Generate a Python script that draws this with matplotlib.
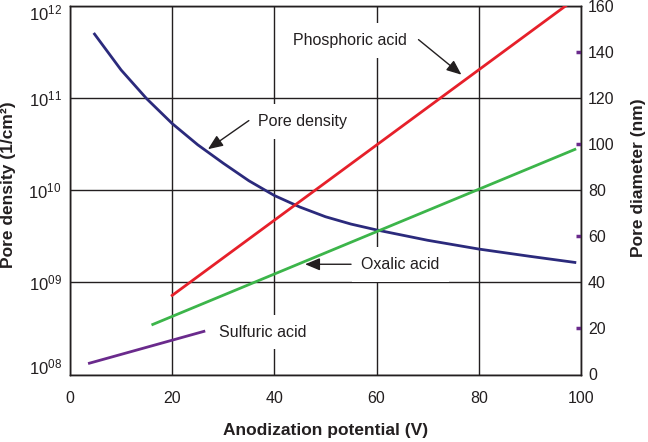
import matplotlib
matplotlib.use('Agg')
import matplotlib.pyplot as plt
from matplotlib.transforms import ScaledTranslation

plt.rcParams.update({
    'font.family': 'Liberation Sans',
    'mathtext.fontset': 'custom',
    'mathtext.rm': 'Liberation Sans',
    'mathtext.it': 'Liberation Sans:italic',
    'mathtext.bf': 'Liberation Sans:bold',
    'font.size': 11,
})

TXT = '#231f20'
BLUE = '#2b2a7c'
RED = '#e6202a'
GREEN = '#3cb54a'
PURPLE = '#6a2a8c'

# pore density (left axis, log)
density_v = [4.8, 10, 15, 20, 25, 30, 35, 40, 45, 50, 55, 60, 70, 80, 90, 98.8]
density = [4.9e11, 2.0e11, 9.77e10, 5.25e10, 3.09e10, 1.95e10, 1.26e10, 8.71e9,
           6.53e9, 5.13e9, 4.27e9, 3.69e9, 2.85e9, 2.29e9, 1.91e9, 1.64e9]

# pore diameter (right axis, nm)
phosphoric_v = [20, 97.1]
phosphoric_d = [34.3, 160]
oxalic_v = [16.2, 98.8]
oxalic_d = [21.7, 97.6]
sulfuric_v = [3.8, 26.2]
sulfuric_d = [4.9, 18.7]

x_ticks = [0, 20, 40, 60, 80, 100]
left_ticks = [1e8, 1e9, 1e10, 1e11, 1e12]
left_labels = [r'$\mathregular{10^{08}}$', r'$\mathregular{10^{09}}$', r'$\mathregular{10^{10}}$',
               r'$\mathregular{10^{11}}$', r'$\mathregular{10^{12}}$']
right_ticks = [0, 20, 40, 60, 80, 100, 120, 140, 160]
purple_marks = [20, 60, 100, 140]

fig = plt.figure(figsize=(6.48, 4.42), dpi=100)
ax = fig.add_axes([70 / 648, 1 - 374.5 / 442, 511 / 648, 369 / 442])
ax2 = ax.twinx()

ax.set_xlim(0, 100)
ax.set_yscale('log')
ax.set_ylim(1e8, 1e12)
ax.set_xticks(x_ticks)
ax.set_yticks(left_ticks)
ax.set_yticklabels(left_labels)
ax.minorticks_off()
ax.grid(True, color=TXT, lw=1.0)
ax.set_axisbelow(True)
ax.tick_params(axis='x', length=0, pad=12, labelsize=11.5, colors=TXT)
ax.tick_params(axis='y', length=0, pad=6, labelsize=12, colors=TXT)

# end labels sit a little inside the frame
labels = ax.get_yticklabels()
labels[0].set_transform(labels[0].get_transform() + ScaledTranslation(0, 6 / 72, fig.dpi_scale_trans))
labels[-1].set_transform(labels[-1].get_transform() + ScaledTranslation(0, -5 / 72, fig.dpi_scale_trans))

ax2.set_ylim(0, 160)
ax2.set_yticks(right_ticks)
ax2.set_yticks(purple_marks, minor=True)
ax2.yaxis.remove_overlapping_locs = False
ax2.tick_params(axis='y', which='major', length=0, pad=5, labelsize=11.5, colors=TXT)
ax2.tick_params(axis='y', which='minor', direction='in', length=3.5, width=2.5, color=PURPLE)

for a in (ax, ax2):
    for s in a.spines.values():
        s.set_color(TXT)
        s.set_linewidth(1.0)

ax.plot(density_v, density, color=BLUE, lw=2.0, zorder=3)
ax2.plot(phosphoric_v, phosphoric_d, color=RED, lw=2.0, zorder=3)
ax2.plot(oxalic_v, oxalic_d, color=GREEN, lw=2.0, zorder=3)
ax2.plot(sulfuric_v, sulfuric_d, color=PURPLE, lw=2.0, zorder=3)

box = dict(fc='white', ec='none', pad=7)
ax2.text(36.7, 109.7, 'Pore density', fontsize=11.5, color=TXT, va='center', ha='left', bbox=box, zorder=2)
ax2.text(43.7, 144.9, 'Phosphoric acid', fontsize=11.5, color=TXT, va='center', ha='left', bbox=box, zorder=2)
ax2.text(57.0, 47.8, 'Oxalic acid', fontsize=11.5, color=TXT, va='center', ha='left', bbox=box, zorder=2)
ax2.text(29.2, 18.4, 'Sulfuric acid', fontsize=11.5, color=TXT, va='center', ha='left', bbox=box, zorder=2)

arrow = dict(arrowstyle='-|>,head_length=0.6,head_width=0.25', mutation_scale=15,
             color=TXT, lw=1.0, shrinkA=0, shrinkB=0)
ax2.annotate('', xy=(27.0, 97.7), xytext=(35.0, 110.1), arrowprops=arrow, zorder=4)
ax2.annotate('', xy=(76.6, 130.0), xytext=(68.2, 145.2), arrowprops=arrow, zorder=4)
ax2.annotate('', xy=(46.0, 47.8), xytext=(55.0, 47.8), arrowprops=arrow, zorder=4)

fig.text(9 / 648, 1 - 185 / 442, 'Pore density (1/cm²)', rotation=90, ha='center', va='center',
         fontsize=12.5, fontweight='bold', color=TXT)
fig.text(638 / 648, 1 - 178 / 442, 'Pore diameter (nm)', rotation=90, ha='center', va='center',
         fontsize=12.5, fontweight='bold', color=TXT)
fig.text(326 / 648, 1 - 431 / 442, 'Anodization potential (V)', ha='center', va='center',
         fontsize=12.5, fontweight='bold', color=TXT)

fig.savefig('out.png', dpi=100, facecolor='white')
